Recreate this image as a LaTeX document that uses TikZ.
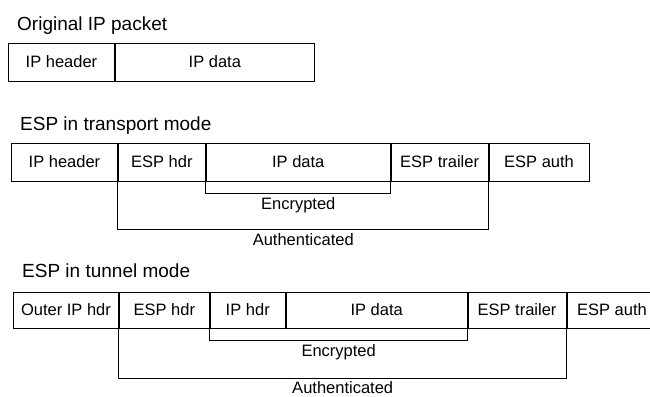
\documentclass[tikz,border=0pt]{standalone}
\usepackage{fontspec}
\setmainfont{Liberation Sans}
\begin{document}
\begin{tikzpicture}[x=1pt,y=-1pt,
  field/.style={draw=black, line width=0.9pt, anchor=north west, inner sep=0pt,
    minimum height=#1, text height=12pt, text depth=1pt,
    font=\fontsize{16.5}{19}\selectfont},
  field/.default=38pt,
  title/.style={anchor=base west, inner sep=0pt, font=\fontsize{19}{22}\selectfont},
  lbl/.style={anchor=base, inner sep=0pt, yshift=-16.5pt, font=\fontsize{16.5}{19}\selectfont},
  brk/.style={draw=black, line width=0.9pt}]
\clip (0,0) rectangle (650,396);
\fill[white] (0,0) rectangle (650,396);

% Original IP packet
\node[title] (t1) at (17,31) {Original IP packet};
\node[field, minimum width=106pt] (ohdr) at (8,43) {IP header};
\node[field, minimum width=199pt] (odata) at (ohdr.north east) {IP data};

% ESP in transport mode
\node[title] (t2) at (20,130) {ESP in transport mode};
\node[field, minimum width=106pt] (thdr) at (11,143) {IP header};
\node[field, minimum width=87pt] (tesp) at (thdr.north east) {ESP hdr};
\node[field, minimum width=184pt] (tdata) at (tesp.north east) {IP data};
\node[field, minimum width=97pt] (ttrail) at (tdata.north east) {ESP trailer};
\node[field, minimum width=100pt] (tauth) at (ttrail.north east) {ESP auth};

\coordinate (tey) at (0,193);
\coordinate (tay) at (0,229);
\draw[brk] (tdata.south west) -- (tdata.south west |- tey)
  -- node[lbl] {Encrypted} (ttrail.south west |- tey) -- (ttrail.south west);
\draw[brk] (tesp.south west) -- (tesp.south west |- tay)
  -- node[lbl] {Authenticated} (tauth.south west |- tay) -- (tauth.south west);

% ESP in tunnel mode
\node[title] (t3) at (22,277) {ESP in tunnel mode};
\node[field=36pt, minimum width=105pt] (uout) at (13,292) {Outer IP hdr};
\node[field=36pt, minimum width=90pt] (uesp) at (uout.north east) {ESP hdr};
\node[field=36pt, minimum width=75pt] (uhdr) at (uesp.north east) {IP hdr};
\node[field=36pt, minimum width=181pt] (udata) at (uhdr.north east) {IP data};
\node[field=36pt, minimum width=98pt] (utrail) at (udata.north east) {ESP trailer};
\node[field=36pt, minimum width=90pt] (uauth) at (utrail.north east) {ESP auth};

\coordinate (uey) at (0,340);
\coordinate (uay) at (0,378);
\draw[brk] (uhdr.south west) -- (uhdr.south west |- uey)
  -- node[lbl] {Encrypted} (utrail.south west |- uey) -- (utrail.south west);
\draw[brk] (uesp.south west) -- (uesp.south west |- uay)
  -- node[lbl, yshift=1.5pt] {Authenticated} (uauth.south west |- uay) -- (uauth.south west);
\end{tikzpicture}
\end{document}
